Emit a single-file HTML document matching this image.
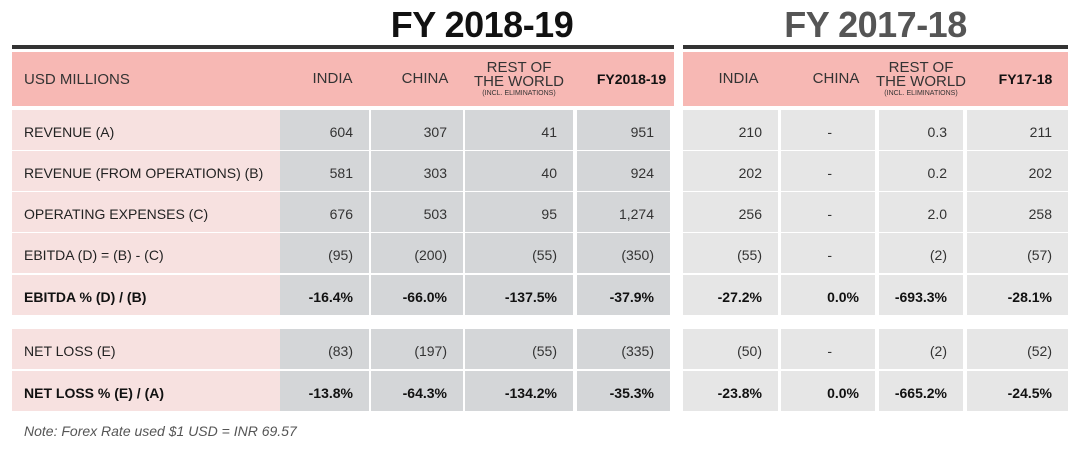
<!DOCTYPE html>
<html><head><meta charset="utf-8">
<style>
body{margin:0;width:1080px;height:452px;background:#fff;position:relative;overflow:hidden;font-family:"Liberation Sans",sans-serif;}
.a{position:absolute;box-sizing:border-box;}
.t{font-weight:bold;font-size:36px;text-align:center;letter-spacing:-0.5px;}
.h{display:flex;align-items:center;justify-content:center;text-align:center;font-size:15px;color:#333;line-height:14px;}
.lab{display:flex;align-items:center;padding-left:12px;font-size:14px;color:#222;}
.c{display:flex;align-items:center;justify-content:flex-end;font-size:14px;color:#333;}
.b{font-weight:bold;color:#111;}
</style></head><body>
<div class="a t" style="left:290px;top:4px;width:384px;color:#111;">FY 2018-19</div>
<div class="a t" style="left:683px;top:4px;width:385px;color:#555;">FY 2017-18</div>
<div class="a" style="left:12px;top:45px;width:662px;height:4px;background:#333;"></div>
<div class="a" style="left:683px;top:45px;width:385px;height:4px;background:#333;"></div>
<div class="a" style="left:12px;top:52px;width:662px;height:54px;background:#f7b8b4;"></div>
<div class="a" style="left:683px;top:52px;width:385px;height:54px;background:#f7b8b4;"></div>
<div class="a lab" style="left:12px;top:52px;width:268px;height:54px;color:#333;font-size:15px;">USD MILLIONS</div>
<div class="a" style="left:24px;top:423px;font-size:14px;font-style:italic;color:#555;">Note: Forex Rate used $1 USD = INR 69.57</div>
<script>
const headers=["INDIA","CHINA","ROW","FY2018-19","INDIA","CHINA","ROW","FY17-18"];
const rowLabels=["REVENUE (A)","REVENUE (FROM OPERATIONS) (B)","OPERATING EXPENSES (C)","EBITDA (D) = (B) - (C)","EBITDA %  (D) / (B)","NET LOSS (E)","NET LOSS % (E) / (A)"];
const boldRows=[false,false,false,false,true,false,true];
const fy19=[["604","307","41","951"],["581","303","40","924"],["676","503","95","1,274"],["(95)","(200)","(55)","(350)"],["-16.4%","-66.0%","-137.5%","-37.9%"],["(83)","(197)","(55)","(335)"],["-13.8%","-64.3%","-134.2%","-35.3%"]];
const fy18=[["210","-","0.3","211"],["202","-","0.2","202"],["256","-","2.0","258"],["(55)","-","(2)","(57)"],["-27.2%","0.0%","-693.3%","-28.1%"],["(50)","-","(2)","(52)"],["-23.8%","0.0%","-665.2%","-24.5%"]];
const colX=[[280,89],[371,92],[465,108],[577,93],[683,95],[781,94],[879,84],[967,101]];
const rowY=[110,151,192,233,275,329,371];
const root=document.body;
function mk(cls,st,txt){const d=document.createElement('div');d.className='a '+cls;d.style.cssText=st;d.innerHTML=txt;root.appendChild(d);return d;}
headers.forEach((h,i)=>{
  let txt=h==='ROW'?'<div style="line-height:14px;white-space:nowrap">REST OF<br>THE WORLD<div style="font-size:7px;line-height:9px;white-space:nowrap">(INCL. ELIMINATIONS)</div></div>':h;
  const d=mk('h'+(i%4===3?' b':''),`left:${colX[i][0]}px;top:52px;width:${colX[i][1]}px;height:54px;padding-left:${h==='ROW'?0:16}px;`+(i%4===3?'font-size:14px;':''),txt);
  
  
});
rowLabels.forEach((l,r)=>{
  const y=rowY[r];
  const d=mk('lab'+(boldRows[r]?' b':''),`left:12px;top:${y}px;width:268px;height:40px;padding-top:4px;background:#f7e1e0;`,l);
  
  
  const vals=fy19[r].concat(fy18[r]);
  vals.forEach((v,i)=>{
    const pad=(v==='-')?(colX[i][1]/2-4):16;
    const c=mk('c'+(boldRows[r]?' b':''),`left:${colX[i][0]}px;top:${y}px;width:${colX[i][1]}px;height:40px;padding-top:4px;padding-right:${pad}px;background:${i<4?'#d4d6d8':'#e6e6e6'};`,v);
    
    
  });
});
</script>
</body></html>
